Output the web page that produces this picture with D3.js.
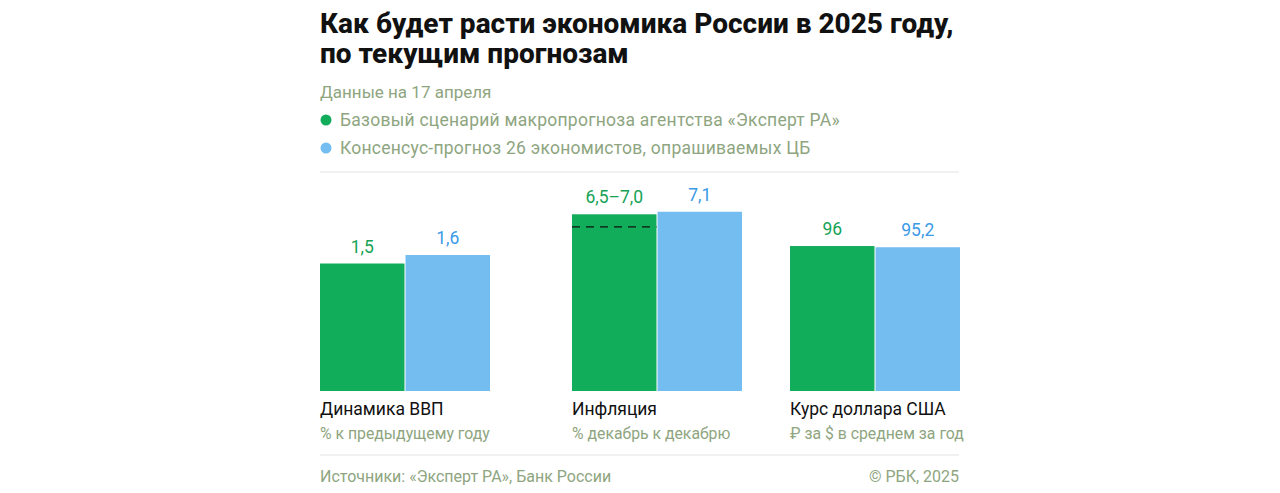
<!DOCTYPE html>
<html><head><meta charset="utf-8">
<script src="https://cdn.jsdelivr.net/npm/d3@7"></script>
<style>
html,body{margin:0;padding:0;background:#fff;}
svg{display:block;font-family:Roboto,"Noto Sans",sans-serif;}
</style></head>
<body>
<svg id="c" width="1280" height="493"></svg>
<script>
const titleLines = ["Как будет расти экономика России в 2025 году,", "по текущим прогнозам"];
const subtitle = "Данные на 17 апреля";
const seriesNames = ["Базовый сценарий макропрогноза агентства «Эксперт РА»", "Консенсус-прогноз 26 экономистов, опрашиваемых ЦБ"];
const categories = ["Динамика ВВП", "Инфляция", "Курс доллара США"];
const units = ["% к предыдущему году", "% декабрь к декабрю", "₽ за $ в среднем за год"];
const expertValues = [1.5, 7.0, 96];
const expertLabels = ["1,5", "6,5–7,0", "96"];
const expertRangeLow = [null, 6.5, null];
const consensusValues = [1.6, 7.1, 95.2];
const consensusLabels = ["1,6", "7,1", "95,2"];
const scaleMax = [2.118, 7.13, 119.2];
const source = "Источники: «Эксперт РА», Банк России";
const credit = "© РБК, 2025";

const green = "#12ad5a", blue = "#74bdf0";
const greenText = "#16a355", blueText = "#3b9ae6";
const muted = "#8ea57f";

const svg = d3.select("#c");
const L = 320, R = 959;
const baseY = 391, topY = 211;

// title
svg.append("g").selectAll("text").data(titleLines).join("text")
  .attr("x", L).attr("y", (d,i)=>33 + i*30)
  .attr("font-size", 28).attr("font-weight", 800).attr("fill", "#111")
  .text(d=>d);

svg.append("text").attr("x", L).attr("y", 98).attr("font-size", 17).attr("fill", muted).text(subtitle);

const leg = svg.append("g").selectAll("g").data(seriesNames).join("g")
  .attr("transform", (d,i)=>`translate(${L},${126 + i*28})`);
leg.append("circle").attr("cx", 6).attr("cy", -6).attr("r", 5.5).attr("fill", (d,i)=> i===0?green:blue);
leg.append("text").attr("x", 20).attr("font-size", 17.5).attr("letter-spacing", 0.25).attr("fill", muted).text(d=>d);

svg.append("line").attr("x1", L).attr("x2", R).attr("y1", 172).attr("y2", 172).attr("stroke", "#ececec").attr("stroke-width", 1.5);
svg.append("line").attr("x1", L).attr("x2", R).attr("y1", 455).attr("y2", 455).attr("stroke", "#ececec").attr("stroke-width", 1.5);

// group positions
const groupX = d3.scaleOrdinal().domain(categories).range([L, 572, 790]);
const inner = d3.scaleBand().domain([0,1]).range([0, 170]).paddingInner(0.012);

const groups = svg.append("g").selectAll("g").data(categories).join("g")
  .attr("transform", d=>`translate(${groupX(d)},0)`);

groups.each(function(cat, i){
  const g = d3.select(this);
  const y = d3.scaleLinear().domain([0, scaleMax[i]]).range([baseY, topY]);
  const bars = [
    {v: expertValues[i], lab: expertLabels[i], col: green, tcol: greenText, k: 0},
    {v: consensusValues[i], lab: consensusLabels[i], col: blue, tcol: blueText, k: 1}
  ];
  g.selectAll("rect").data(bars).join("rect")
    .attr("x", d=>inner(d.k)).attr("width", inner.bandwidth())
    .attr("y", d=>y(d.v)).attr("height", d=>baseY - y(d.v))
    .attr("fill", d=>d.col);
  g.selectAll("text.val").data(bars).join("text").attr("class","val")
    .attr("x", d=>inner(d.k) + inner.bandwidth()/2)
    .attr("y", d=>y(d.v) - 11)
    .attr("text-anchor", "middle").attr("font-size", 17.5).attr("fill", d=>d.tcol)
    .text(d=>d.lab);
  if (expertRangeLow[i] != null) {
    g.append("line").attr("x1", inner(0)).attr("x2", inner(0)+inner.bandwidth())
      .attr("y1", y(expertRangeLow[i])).attr("y2", y(expertRangeLow[i]))
      .attr("stroke", "#111").attr("stroke-width", 1.3).attr("stroke-dasharray", "8,6");
  }
  g.append("text").attr("x", 0).attr("y", 415).attr("font-size", 17.5).attr("fill", "#111").text(cat);
  g.append("text").attr("x", 0).attr("y", 439).attr("font-size", 15.8).attr("fill", muted).text(units[i]);
});

svg.append("text").attr("x", L).attr("y", 482).attr("font-size", 16).attr("fill", muted).text(source);
svg.append("text").attr("x", R).attr("y", 482).attr("text-anchor", "end").attr("font-size", 16).attr("fill", muted).text(credit);
</script>
</body></html>
